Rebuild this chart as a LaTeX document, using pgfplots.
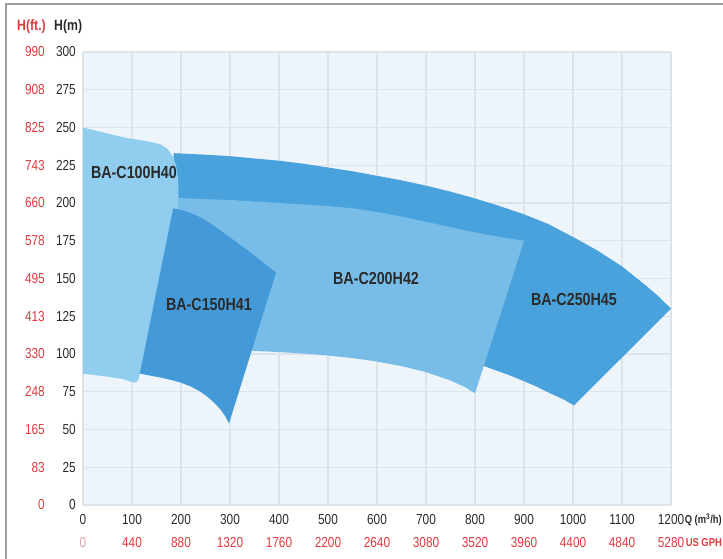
\documentclass[border=0pt]{standalone}
\usepackage{fontspec}
\setmainfont{Liberation Sans}[FakeStretch=0.82]
\usepackage{pgfplots}
\pgfplotsset{compat=1.18}

\definecolor{bgc}{HTML}{EDF5FA}
\definecolor{gridc}{HTML}{DCE3E9}
\definecolor{hred}{HTML}{E0393E}
\definecolor{fadered}{HTML}{D8A2AA}
\definecolor{txt}{HTML}{2B2B2B}
\definecolor{cA}{HTML}{90CDEE}% BA-C100H40
\definecolor{cB}{HTML}{449AD8}% BA-C150H41
\definecolor{cC}{HTML}{78BDE8}% BA-C200H42
\definecolor{cD}{HTML}{4AA2DC}% BA-C250H45

\newcommand{\tl}[2]{\textcolor{hred}{#1}\makebox[31bp][r]{#2}}

\begin{document}
\begin{tikzpicture}
\path[use as bounding box] (0,0) rectangle (723bp,559bp);
\draw[gray!75, line width=1.6bp] (6bp,0) -- (6bp,555bp) -- (723bp,555bp);

\begin{axis}[
    at={(83bp,54bp)}, anchor=south west,
    scale only axis, width=588bp, height=453bp,
    xmin=0, xmax=1200, ymin=0, ymax=300,
    axis background/.style={fill=bgc},
    axis line style={draw=none},
    major tick length=0pt,
    grid=major,
    major grid style={color=gridc, line width=1.3bp},
    xtick={0,100,...,1200},
    ytick={0,25,...,300},
    xticklabels={{0\\\textcolor{fadered}{0}},{100\\\textcolor{hred}{440}},{200\\\textcolor{hred}{880}},
      {300\\\textcolor{hred}{1320}},{400\\\textcolor{hred}{1760}},{500\\\textcolor{hred}{2200}},
      {600\\\textcolor{hred}{2640}},{700\\\textcolor{hred}{3080}},{800\\\textcolor{hred}{3520}},
      {900\\\textcolor{hred}{3960}},{1000\\\textcolor{hred}{4400}},{1100\\\textcolor{hred}{4840}},
      {1200\\\textcolor{hred}{5280}}},
    yticklabels={\tl{0}{0},\tl{83}{25},\tl{165}{50},\tl{248}{75},\tl{330}{100},\tl{413}{125},
      \tl{495}{150},\tl{578}{175},\tl{660}{200},\tl{743}{225},\tl{825}{250},\tl{908}{275},\tl{990}{300}},
    xticklabel style={anchor=north, inner sep=0pt, yshift=-9bp, align=center, text=txt,
      font=\fontsize{14.5}{23}\selectfont},
    yticklabel style={anchor=east, inner sep=0pt, xshift=-7bp, text=txt,
      font=\fontsize{14.5}{18}\selectfont},
]
% BA-C250H45
\addplot[fill=cD, draw=none] coordinates {
  (185,233)(250,232)(300,231)(350,229.5)(400,228)(450,226)(500,223.5)(550,221)
  (600,218)(650,215)(700,211.5)(750,207.5)(800,203)(850,198)(900,192.5)(950,186)
  (1000,177.5)(1050,168.5)(1100,158)(1150,145)(1175,138)(1200,130)
  (1002,66)(980,70)(950,74.5)(925,78.5)(900,82)(870,86)(840,89.5)(810,93)
  (700,130)(400,150)(185,190)} -- cycle;
% BA-C200H42
\addplot[fill=cC, draw=none] coordinates {
  (185,203.5)(250,202.5)(300,202)(350,201)(400,200)(450,199)(500,198)(550,196.5)
  (600,194)(650,191)(700,187.5)(750,184)(800,180.5)(850,177.5)(900,175)
  (800,74)(780,78)(750,82.5)(700,88)(650,92)(600,95)(550,97.3)(500,99)
  (450,100.3)(400,101.3)(350,102)(300,102.7)(250,105)(185,105)} -- cycle;
% BA-C100H40
\addplot[fill=cA, draw=none] coordinates {
  (0,250)(50,246)(90,243)(130,241)(157,239)(172,236)(183,231)(190,225)
  (194,216)(195,205)(193,196)
  (114,84)(110,81.5)(104,81)(80,83.5)(50,85)(0,87)} -- cycle;
% BA-C150H41
\addplot[fill=cB, draw=none] coordinates {
  (184,196.5)(200,195.5)(220,193.3)(240,190.5)(260,186.5)(280,182)(300,177.2)
  (320,172.4)(340,167.6)(360,162.5)(380,157.5)(394,154)
  (298,54)(290,59)(280,63.5)(270,67)(255,71.5)(240,75)(220,78.5)(200,81)
  (180,82.8)(160,84.3)(140,85.5)(116,87)} -- cycle;

\begin{scope}[every node/.style={font=\bfseries\fontsize{17.5}{20}\selectfont, text=txt}]
\node at (axis cs:104,220) {BA-C100H40};
\node at (axis cs:257,133) {BA-C150H41};
\node at (axis cs:598,150) {BA-C200H42};
\node at (axis cs:1002,136) {BA-C250H45};
\end{scope}
\end{axis}

\begin{scope}[every node/.style={font=\bfseries\fontsize{15}{18}\selectfont, inner sep=0pt, anchor=west}]
\node[text=hred] at (17bp,532bp) {H(ft.)};
\node[text=txt] at (54bp,532bp) {H(m)};
\end{scope}
\begin{scope}[every node/.style={font=\bfseries\fontsize{11.5}{14}\selectfont, inner sep=0pt, anchor=east}]
\node[text=txt] at (722bp,39bp) {Q (m\textsuperscript{3}/h)};
\node[text=hred] at (722bp,16bp) {US GPH};
\end{scope}
\end{tikzpicture}
\end{document}
